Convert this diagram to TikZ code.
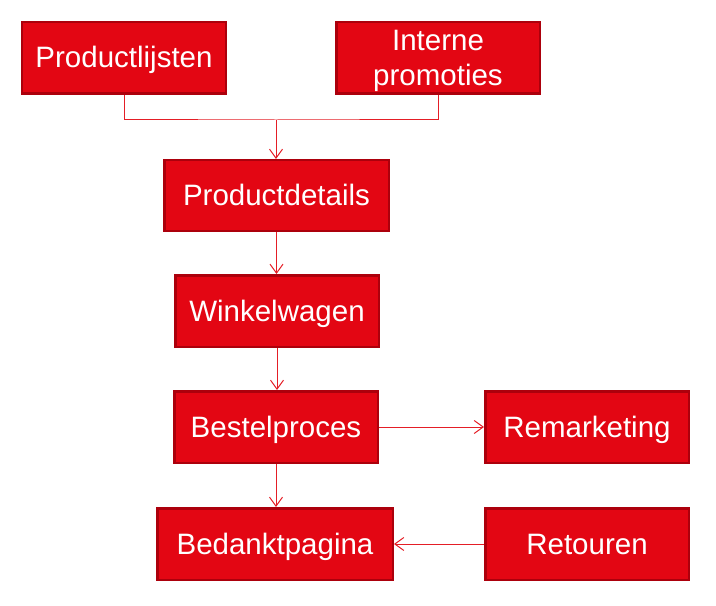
\documentclass[tikz,border=0pt]{standalone}
\usepackage{fontspec}
\setmainfont{Liberation Sans}
\usetikzlibrary{arrows.meta}
\definecolor{boxfill}{RGB}{227,6,19}
\definecolor{boxline}{RGB}{172,0,12}
\definecolor{linkred}{RGB}{228,30,38}
\tikzset{
  box/.style={draw=boxline, fill=boxfill, line width=2.5bp, rectangle, inner sep=0pt,
    text=white, align=center, font=\fontsize{29.5bp}{35bp}\selectfont,
    minimum height=71.5bp, text height=22bp, text depth=2bp},
  link/.style={draw=linkred, line width=1bp},
  arr/.style={link, -{Straight Barb[length=9bp,width=13bp,line width=1bp]}}
}
\begin{document}
\begin{tikzpicture}[x=1bp,y=-1bp]
\useasboundingbox (0,0) rectangle (716,606);
\node[box, minimum width=203.5bp] (pl) at (124,58) {Productlijsten};
\node[box, minimum width=203.5bp, text height=57bp] (ip) at (438,58) {Interne\\promoties};
\node[box, minimum width=224.5bp, minimum height=70.5bp] (pd) at (276.5,195.5) {Productdetails};
\node[box, minimum width=203.5bp] (ww) at (277,311) {Winkelwagen};
\node[box, minimum width=203.5bp] (bp) at (276,427) {Bestelproces};
\node[box, minimum width=235.5bp] (bd) at (275,544) {Bedanktpagina};
\node[box, minimum width=203.5bp] (rm) at (587,427) {Remarketing};
\node[box, minimum width=203.5bp] (rt) at (587,544) {Retouren};
\coordinate (m) at (276,120);
\draw[link] (pl.south) |- (m) -| (ip.south);
\draw[arr] (m) -- (pd.north -| m);
\draw[arr] (pd.south) -- (pd.south |- ww.north);
\draw[arr] (ww.south) -- (ww.south |- bp.north);
\draw[arr] (bp.south) -- (bp.south |- bd.north);
\draw[arr] (bp.east) -- (rm.west);
\draw[arr] (rt.west) -- (bd.east);
\end{tikzpicture}
\end{document}
